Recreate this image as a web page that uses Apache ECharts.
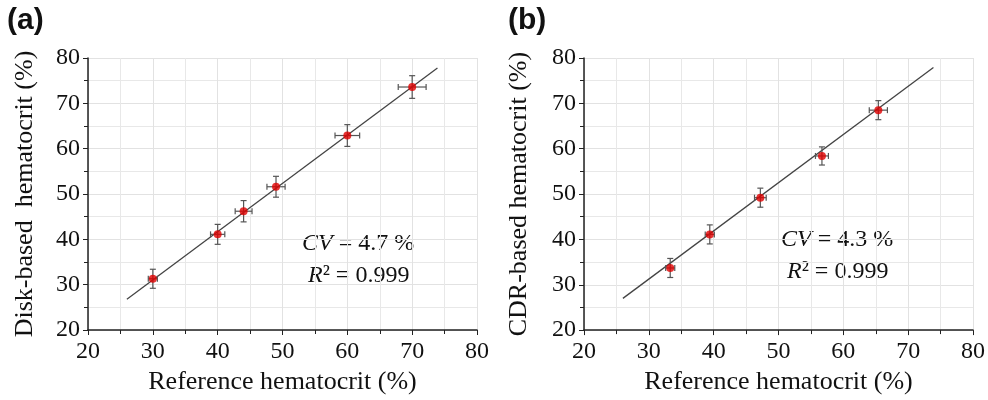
<!DOCTYPE html>
<html>
<head>
<meta charset="utf-8">
<script src="https://cdn.jsdelivr.net/npm/echarts@6/dist/echarts.min.js"></script>
<style>
  html, body { margin: 0; padding: 0; background: #fff; }
  #main { width: 988px; height: 400px; }
</style>
</head>
<body>
<div id="main"></div>
<script>
// panel (a): disk-based vs reference
var refA = [30, 40, 44, 49, 60, 70];
var diskA = [31.3, 41.1, 46.2, 51.6, 62.9, 73.6];
var refErrA = [0.7, 1.1, 1.3, 1.4, 1.9, 2.15];
var diskErrA = [2.1, 2.2, 2.35, 2.3, 2.4, 2.5];
// panel (b): CDR-based vs reference
var refB = [33.3, 39.4, 47.2, 56.7, 65.4];
var cdrB = [33.7, 41.1, 49.2, 58.4, 68.5];
var refErrB = [0.7, 0.7, 0.9, 1.0, 1.4];
var cdrErrB = [2.1, 2.1, 2.1, 2.0, 2.1];
// regression lines (end points)
var fitX = [26.0, 73.9];
var fitA = [26.8, 77.8];
var fitB = [27.0, 77.9];

var serif = '"Liberation Serif", "Times New Roman", serif';

function pts(xs, ys) {
    return xs.map(function (x, i) { return [x, ys[i]]; });
}
function errs(xs, ys, ex, ey) {
    return xs.map(function (x, i) { return [x, ys[i], ex[i], ey[i]]; });
}

function errorBars(params, api) {
    var x = api.value(0), y = api.value(1), ex = api.value(2), ey = api.value(3);
    var l = api.coord([x - ex, y]), r = api.coord([x + ex, y]);
    var t = api.coord([x, y + ey]), b = api.coord([x, y - ey]);
    var c = 3;
    var st = { stroke: '#555', lineWidth: 1.2 };
    function seg(x1, y1, x2, y2) {
        return { type: 'line', shape: { x1: x1, y1: y1, x2: x2, y2: y2 }, style: st };
    }
    return {
        type: 'group',
        children: [
            seg(l[0], l[1], r[0], r[1]),
            seg(l[0], l[1] - c, l[0], l[1] + c),
            seg(r[0], r[1] - c, r[0], r[1] + c),
            seg(t[0], t[1], b[0], b[1]),
            seg(t[0] - c, t[1], t[0] + c, t[1]),
            seg(b[0] - c, b[1], b[0] + c, b[1])
        ]
    };
}

function xAxisOf(idx) {
    return {
        gridIndex: idx, type: 'value', min: 20, max: 80, interval: 10,
        name: 'Reference hematocrit (%)', nameLocation: 'middle', nameGap: 38,
        nameTextStyle: { fontFamily: serif, fontSize: 26, color: '#111' },
        axisLine: { show: true, onZero: false, lineStyle: { color: '#222', width: 1.5 } },
        axisTick: { show: true, length: 5, lineStyle: { color: '#222' } },
        minorTick: { show: true, splitNumber: 2, length: 4, lineStyle: { color: '#222' } },
        axisLabel: { fontFamily: serif, fontSize: 24, color: '#111', margin: 10 },
        splitLine: { show: true, lineStyle: { color: '#e2e2e2' } },
        minorSplitLine: { show: true, lineStyle: { color: '#e8e8e8' } }
    };
}
function yAxisOf(idx, name, gap) {
    return {
        gridIndex: idx, type: 'value', min: 20, max: 80, interval: 10,
        name: name, nameLocation: 'middle', nameGap: gap,
        nameTextStyle: { fontFamily: serif, fontSize: 26, color: '#111' },
        axisLine: { show: true, onZero: false, lineStyle: { color: '#222', width: 1.5 } },
        axisTick: { show: true, length: 5, lineStyle: { color: '#222' } },
        minorTick: { show: true, splitNumber: 2, length: 4, lineStyle: { color: '#222' } },
        axisLabel: { fontFamily: serif, fontSize: 24, color: '#111', margin: 8 },
        splitLine: { show: true, lineStyle: { color: '#e2e2e2' } },
        minorSplitLine: { show: true, lineStyle: { color: '#e8e8e8' } }
    };
}

function statsText(left, top, cv) {
    return {
        type: 'text', left: left, top: top,
        style: {
            text: '{i|CV} = ' + cv + ' %\n {i|R}² = 0.999',
            font: '24px ' + serif, fill: '#111', lineHeight: 32,
            rich: { i: { fontStyle: 'italic', fontFamily: serif, fontSize: 24, fill: '#111' } }
        }
    };
}

var myChart = echarts.init(document.getElementById('main'));
var option = {
    animation: false,
    backgroundColor: '#fff',
    grid: [
        { left: 88, right: 511, top: 58, bottom: 70 },
        { left: 584, right: 12, top: 58, bottom: 69 }
    ],
    xAxis: [xAxisOf(0), xAxisOf(1)],
    yAxis: [yAxisOf(0, 'Disk-based  hematocrit (%)', 50), yAxisOf(1, 'CDR-based hematocrit (%)', 52)],
    graphic: [
        { type: 'text', left: 7, top: 6, style: { text: '(a)', font: 'bold 30px "Liberation Sans", Arial, sans-serif', fill: '#111' } },
        { type: 'text', left: 508, top: 6, style: { text: '(b)', font: 'bold 30px "Liberation Sans", Arial, sans-serif', fill: '#111' } },
        statsText(302, 228, '4.7'),
        statsText(781, 224, '4.3')
    ],
    series: [
        {
            type: 'line', xAxisIndex: 0, yAxisIndex: 0, data: pts(fitX, fitA),
            symbol: 'none', lineStyle: { color: '#444', width: 1.3 }, z: 2
        },
        {
            type: 'custom', xAxisIndex: 0, yAxisIndex: 0, data: errs(refA, diskA, refErrA, diskErrA),
            renderItem: errorBars, z: 3
        },
        {
            type: 'scatter', xAxisIndex: 0, yAxisIndex: 0, data: pts(refA, diskA),
            symbol: 'circle', symbolSize: 8, itemStyle: { color: '#e00000' }, z: 4
        },
        {
            type: 'line', xAxisIndex: 1, yAxisIndex: 1, data: pts(fitX, fitB),
            symbol: 'none', lineStyle: { color: '#444', width: 1.3 }, z: 2
        },
        {
            type: 'custom', xAxisIndex: 1, yAxisIndex: 1, data: errs(refB, cdrB, refErrB, cdrErrB),
            renderItem: errorBars, z: 3
        },
        {
            type: 'scatter', xAxisIndex: 1, yAxisIndex: 1, data: pts(refB, cdrB),
            symbol: 'circle', symbolSize: 8, itemStyle: { color: '#e00000' }, z: 4
        }
    ]
};
myChart.setOption(option);
</script>
</body>
</html>
